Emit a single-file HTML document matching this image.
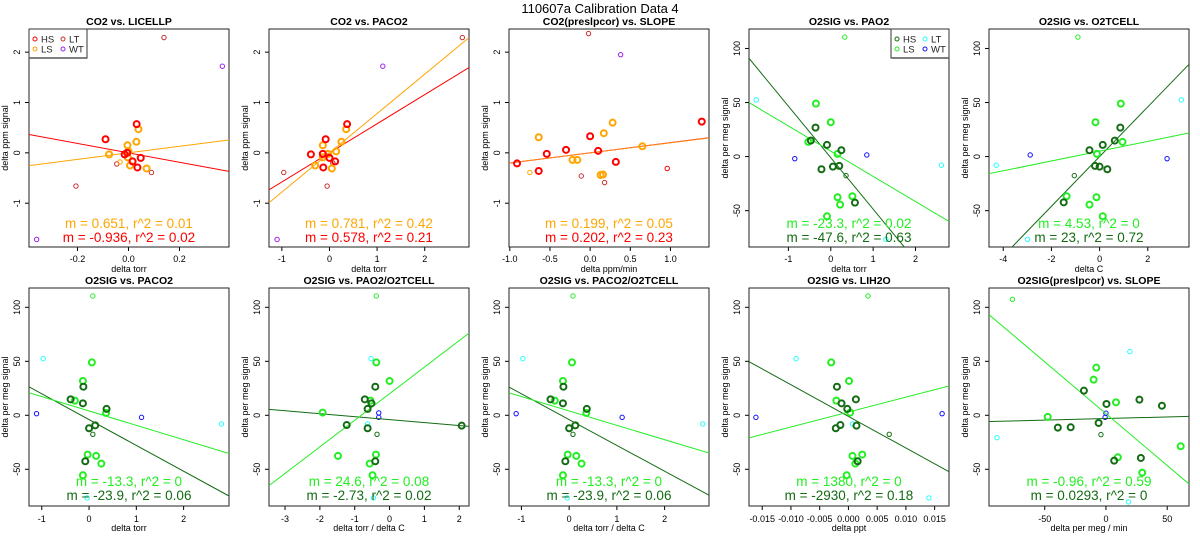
<!DOCTYPE html>
<html><head><meta charset="utf-8">
<style>
html,body{margin:0;padding:0;background:#fff;}
svg{display:block;font-family:"Liberation Sans",sans-serif;}
</style></head>
<body>
<svg id="chart" width="1200" height="550" viewBox="0 0 1200 550" xmlns="http://www.w3.org/2000/svg">
<text x="600" y="13" text-anchor="middle" font-size="13">110607a   Calibration Data 4</text>
</svg>
<script>
// ===== DATA =====
// CO2 vs LICELLP
const p1HS=[[0.032,0.57],[-0.09,0.27],[-0.005,0.0],[-0.015,-0.03],[0.016,-0.17],[0.048,-0.1],[0.035,-0.29]];
const p1LS=[[0.039,0.47],[0.031,0.22],[-0.004,0.15],[-0.076,-0.03],[-0.003,-0.09],[0.006,-0.25],[0.071,-0.31],[0,0.03]];
const p1LT=[[0.139,2.29],[-0.206,-0.66],[0.09,-0.39],[-0.046,-0.22]];
const p1WT=[[0.368,1.72],[-0.36,-1.72]];
const p1HSt=[];
const p1LSt=[[-0.033,-0.18]];
// CO2 vs PACO2
const p2HS=[[0.37,0.57],[-0.08,0.27],[-0.39,-0.03],[-0.14,-0.02],[-0.13,-0.29],[0.0,-0.1],[0.12,-0.17]];
const p2LS=[[0.35,0.47],[0.25,0.22],[-0.14,0.15],[-0.14,-0.09],[-0.3,-0.25],[0.05,-0.31],[-0.03,-0.02],[0.14,0.03]];
const p2LT=[[2.79,2.29],[-0.96,-0.39],[-0.05,-0.66],[0.07,-0.2]];
const p2WT=[[1.12,1.72],[-1.1,-1.72]];
const p2HSt=[];
const p2LSt=[];
// CO2(preslpcor) vs SLOPE
const p3HS=[[-0.91,-0.21],[-0.64,-0.36],[-0.54,-0.02],[-0.30,0.06],[0.0,0.33],[0.10,0.04],[0.32,-0.18],[1.39,0.62]];
const p3LS=[[-0.64,0.31],[-0.22,-0.14],[-0.16,-0.14],[0.17,0.39],[0.28,0.60],[0.13,-0.44],[0.16,-0.43],[0.65,0.13]];
const p3LT=[[-0.02,2.37],[-0.11,-0.46],[0.18,-0.59]];
const p3WT=[[0.38,1.95]];
const p3HSt=[[0.96,-0.31]];
const p3LSt=[[-0.75,-0.39]];
// O2SIG vs PAO2
const p4HS=[[-0.36,26.8],[-0.47,14.8],[-0.09,10.8],[0.25,5.9],[-0.22,-11.7],[0.05,-9.3],[0.20,-8.6],[0.57,-42.6]];
const p4LS=[[-0.35,49],[0,31.8],[-0.53,13.6],[0.16,2.5],[0.16,-37.6],[0.51,-36.7],[0.22,-44.4],[-0.09,-55.2]];
const p4LT=[[-1.76,52.5],[2.61,-8],[1.3,-76.5]];
const p4WT=[[-0.85,-1.9],[0.85,1.5]];
const p4HSt=[[0.36,-17.6]];
const p4LSt=[[0.33,110.5]];
// O2SIG vs O2TCELL
const p5HS=[[0.86,26.8],[0.63,14.8],[0.13,10.8],[-0.42,5.9],[-0.19,-8.6],[0,-9.3],[0.32,-11.7],[-1.49,-42.3]];
const p5LS=[[0.88,49],[-0.17,31.8],[0.95,13.6],[-0.11,2.5],[-0.13,-37.6],[-1.37,-36.7],[-0.42,-44.4],[0.13,-55.2]];
const p5LT=[[3.39,52.5],[-4.29,-8],[-2.99,-76.5]];
const p5WT=[[-2.88,1.5],[2.8,-1.9]];
const p5HSt=[[-1.05,-17.6]];
const p5LSt=[[-0.9,110.5]];
// O2SIG vs PACO2 (and PACO2/O2TCELL)
const p6HS=[[-0.12,26.5],[-0.39,14.8],[-0.13,11.1],[0.37,5.9],[0,-12],[0.13,-9.3],[-0.08,-42.6]];
const p6LS=[[0.06,49],[-0.13,31.8],[-0.30,13.6],[0.36,2.2],[-0.03,-36.4],[0.15,-37.6],[0.26,-44.7],[-0.13,-55.5]];
const p6LT=[[-0.97,52.5],[2.8,-8],[-0.04,-76.5]];
const p6WT=[[-1.11,1.5],[1.11,-1.9]];
const p6HSt=[[0.08,-17.6]];
const p6LSt=[[0.08,110.5]];
// O2SIG vs PAO2/O2TCELL
const p7HS=[[-0.41,26.5],[-0.71,14.8],[-0.52,11.1],[-0.63,5.9],[-0.63,-12],[-1.23,-9],[-0.41,-42.6],[2.07,-9.6]];
const p7LS=[[-0.38,49],[0,31.8],[-0.55,13.6],[-1.92,2.5],[-0.39,-36.4],[-1.48,-37.6],[-0.57,-44.7],[-0.49,-55.5]];
const p7LT=[[-0.53,52.5],[-0.63,-8],[-0.46,-76.5]];
const p7WT=[[-0.31,2.2],[-0.31,-1.9]];
const p7HSt=[[-0.36,-17.6]];
const p7LSt=[[-0.38,110.5]];
// O2SIG vs LIH2O
const p9HS=[[-0.0020,26.5],[0.0013,14.8],[-0.0012,11.1],[-0.0002,5.9],[-0.0022,-12],[-0.0014,-9],[0.0014,-9.6],[0.0016,-42.6]];
const p9LS=[[-0.003,49],[0.0001,31.8],[-0.0021,13.6],[0.0003,2.5],[0.0007,-37.6],[0.0024,-36.4],[0.0012,-44.7],[-0.0003,-55.5]];
const p9LT=[[-0.0091,52.5],[0.0007,-8],[0.014,-76.5]];
const p9WT=[[-0.0161,-1.9],[0.0163,1.5]];
const p9HSt=[[0.0071,-17.6]];
const p9LSt=[[0.0034,110.5]];
// O2SIG(preslpcor) vs SLOPE
const p10HS=[[-18,22.8],[0.4,10.5],[27.3,14.5],[45.7,8.9],[-39.3,-11.4],[-28.8,-11.1],[-6,-7.1],[28.5,-39.5],[6.7,-42]];
const p10LS=[[-7.9,44.1],[-10.1,33],[8.2,12],[-47.6,-1.5],[9.7,-38.9],[61,-28.7],[29.6,-53.1]];
const p10LT=[[19.5,59],[-89,-20.7],[18.4,-80.2]];
const p10WT=[[0,1.9],[-0.7,-1.9]];
const p10HSt=[[-4.1,-17.9]];
const p10LSt=[[-76.4,107.4]];
// fit lines: [slope, intercept]
const fitLS=[[0.651,0],[0.781,0],[0.199,0],[-23.3,5],[4.53,5],[-13.3,4],[24.6,20],[-13.3,4],[1380,3],[-0.96,1.5]];
const fitHS=[[-0.936,0],[0.578,0],[0.202,0],[-47.6,-1],[23,0],[-23.9,-4],[-2.73,-4],[-23.9,-4],[-2930,-1],[0.0293,-3]];
const labelLS=["m = 0.651, r^2 = 0.01","m = 0.781, r^2 = 0.42","m = 0.199, r^2 = 0.05","m = -23.3, r^2 = 0.02","m = 4.53, r^2 = 0","m = -13.3, r^2 = 0","m = 24.6, r^2 = 0.08","m = -13.3, r^2 = 0","m = 1380, r^2 = 0","m = -0.96, r^2 = 0.59"];
const labelHS=["m = -0.936, r^2 = 0.02","m = 0.578, r^2 = 0.21","m = 0.202, r^2 = 0.23","m = -47.6, r^2 = 0.63","m = 23, r^2 = 0.72","m = -23.9, r^2 = 0.06","m = -2.73, r^2 = 0.02","m = -23.9, r^2 = 0.06","m = -2930, r^2 = 0.18","m = 0.0293, r^2 = 0"];
const titles=["CO2 vs. LICELLP","CO2 vs. PACO2","CO2(preslpcor) vs. SLOPE","O2SIG vs. PAO2","O2SIG vs. O2TCELL","O2SIG vs. PACO2","O2SIG vs. PAO2/O2TCELL","O2SIG vs. PACO2/O2TCELL","O2SIG vs. LIH2O","O2SIG(preslpcor) vs. SLOPE"];
const xLabels=["delta torr","delta torr","delta ppm/min","delta torr","delta C","delta torr","delta torr / delta C","delta torr / delta C","delta ppt","delta per meg / min"];
const xTicks=[[-0.2,0,0.2],[-1,0,1,2],[-1,-0.5,0,0.5,1],[-1,0,1,2],[-4,-2,0,2],[-1,0,1,2],[-3,-2,-1,0,1,2],[-1,0,1,2],[-0.015,-0.01,-0.005,0,0.005,0.01,0.015],[-50,0,50]];
const xTickLabels=[["-0.2","0.0","0.2"],["-1","0","1","2"],["-1.0","-0.5","0.0","0.5","1.0"],["-1","0","1","2"],["-4","-2","0","2"],["-1","0","1","2"],["-3","-2","-1","0","1","2"],["-1","0","1","2"],["-0.015","-0.010","-0.005","0.000","0.005","0.010","0.015"],["-50","0","50"]];
const yTicksCO2=[-1,0,1,2];
const yTicksO2=[-50,0,50,100];
const xRanges=[[-0.39,0.394],[-1.27,2.93],[-1.01,1.48],[-1.93,2.79],[-4.59,3.71],[-1.27,2.96],[-3.46,2.28],[-1.26,2.93],[-0.0173,0.0175],[-95.5,67.8]];

// ===== LAYOUT =====
const svg=document.getElementById('chart');
const NS='http://www.w3.org/2000/svg';
const CO2C={HS:'#ff0000',LS:'#ffa500',LT:'#c83232',WT:'#a020f0'};
const O2C={HS:'#136b13',LS:'#22ee22',LT:'#22ffff',WT:'#1010ff'};
const series=[[p1HS,p1LS,p1LT,p1WT,p1HSt,p1LSt],[p2HS,p2LS,p2LT,p2WT,p2HSt,p2LSt],[p3HS,p3LS,p3LT,p3WT,p3HSt,p3LSt],[p4HS,p4LS,p4LT,p4WT,p4HSt,p4LSt],[p5HS,p5LS,p5LT,p5WT,p5HSt,p5LSt],[p6HS,p6LS,p6LT,p6WT,p6HSt,p6LSt],[p7HS,p7LS,p7LT,p7WT,p7HSt,p7LSt],[p6HS,p6LS,p6LT,p6WT,p6HSt,p6LSt],[p9HS,p9LS,p9LT,p9WT,p9HSt,p9LSt],[p10HS,p10LS,p10LT,p10WT,p10HSt,p10LSt]];
function mk(tag,attrs,parent){const e=document.createElementNS(NS,tag);for(const k in attrs)e.setAttribute(k,attrs[k]);(parent||svg).appendChild(e);return e;}

for(let i=0;i<10;i++){
  const row=i<5?0:1, col=i%5;
  const x0=29+240*col, w=200;
  const y0=row?288:29, h=218;
  const co2=i<3;
  const ylim=co2?[-1.87,2.46]:(row?[-84,117.9]:[-83.6,118]);
  const xlim=xRanges[i];
  const X=v=>x0+(v-xlim[0])/(xlim[1]-xlim[0])*w;
  const Y=v=>y0+h-(v-ylim[0])/(ylim[1]-ylim[0])*h;
  const g=mk('g',{});
  
  
  const cp=mk('clipPath',{id:'cp'+i},g);
  mk('rect',{x:x0,y:y0,width:w,height:h},cp);
  const t=mk('text',{x:x0+w/2,y:y0-4,'text-anchor':'middle','font-size':'10.5','font-weight':'bold'},g);
  t.textContent=titles[i];
  
  
  const tyTick=row?522:262, tyLab=row?531:272;
  xTicks[i].forEach((v,k)=>{
    mk('line',{x1:X(v),x2:X(v),y1:y0+h,y2:y0+h+4,stroke:'#000','stroke-width':1},g);
    const tl=mk('text',{x:X(v),y:tyTick,'text-anchor':'middle','font-size':'9'},g);
    tl.textContent=xTickLabels[i][k];
    
    
  });
  mk('line',{x1:X(xTicks[i][0]),x2:X(xTicks[i][xTicks[i].length-1]),y1:y0+h,y2:y0+h,stroke:'#000'},g);
  const xl=mk('text',{x:x0+w/2,y:tyLab,'text-anchor':'middle','font-size':'9'},g);
  xl.textContent=xLabels[i];
  
  
  const yt=co2?yTicksCO2:yTicksO2;
  yt.forEach(v=>{
    mk('line',{x1:x0-4,x2:x0,y1:Y(v),y2:Y(v),stroke:'#000'},g);
    const tl=mk('text',{x:x0-9,y:Y(v),'text-anchor':'middle','font-size':'9',transform:`rotate(-90 ${x0-9} ${Y(v)})`},g);
    tl.textContent=String(v);
    
    
  });
  mk('line',{x1:x0,x2:x0,y1:Y(yt[0]),y2:Y(yt[yt.length-1]),stroke:'#000'},g);
  const yl=mk('text',{x:x0-21,y:y0+h/2,'text-anchor':'middle','font-size':'9',transform:`rotate(-90 ${x0-21} ${y0+h/2})`},g);
  yl.textContent=co2?'delta ppm signal':'delta per meg signal';
  
  
  mk('rect',{x:x0,y:y0,width:w,height:h,fill:'none',stroke:'#222','stroke-width':1},g);
  const C=co2?CO2C:O2C;
  const cl=mk('g',{'clip-path':`url(#cp${i})`},g);
  const [hs,ls,lt,wt,hst,lst]=series[i];
  const drawPts=(arr,col,thick,nm)=>arr.forEach(p=>{
    const c=mk('circle',{cx:X(p[0]),cy:Y(p[1]),r:thick?3:2.2,fill:'none',stroke:col,'stroke-width':thick?2:1},cl);
    
    
  });
  drawPts(lt,C.LT,false,'point-lt');
  drawPts(wt,C.WT,false,'point-wt');
  drawPts(hst,C.HS,false,'point-hs-thin');
  drawPts(lst,C.LS,false,'point-ls-thin');
  const drawLine=(f,col,nm)=>{
    const l=mk('line',{x1:X(xlim[0]),y1:Y(f[0]*xlim[0]+f[1]),x2:X(xlim[1]),y2:Y(f[0]*xlim[1]+f[1]),stroke:col,'stroke-width':1},cl);
    
    
  };
  drawLine(fitHS[i],C.HS,'fit-line-hs');
  drawLine(fitLS[i],i==2?'#ff8c1a':C.LS,'fit-line-ls');
  drawPts(ls,C.LS,true,'point-ls');
  drawPts(hs,C.HS,true,'point-hs');
  const ty1=row?486:228, ty2=row?500:242;
  const a1=mk('text',{x:x0+w/2,y:ty1,'text-anchor':'middle','font-size':'13.5',fill:C.LS},g);
  a1.textContent=labelLS[i];
  
  
  const a2=mk('text',{x:x0+w/2,y:ty2,'text-anchor':'middle','font-size':'13.5',fill:C.HS},g);
  a2.textContent=labelHS[i];
  
  
  if(i==0||i==3){
    const lx=i==0?x0:x0+w-58, ly=y0;
    const lg=mk('g',{},g);
    
    
    mk('rect',{x:lx,y:ly,width:58,height:29,fill:'#fff',stroke:'#333','stroke-width':1},lg);
    mk('line',{x1:lx+1,y1:ly+29,x2:lx+58,y2:ly+29,stroke:'#555','stroke-width':1.5},lg);
    const ents=[['HS',C.HS,6,10],['LS',C.LS,6,20],['LT',C.LT,34,10],['WT',C.WT,34,20]];
    ents.forEach(e=>{
      const en=mk('g',{},lg);
      
      
      mk('circle',{cx:lx+e[2],cy:ly+e[3],r:2,fill:'none',stroke:e[1],'stroke-width':1},en);
      const tx=mk('text',{x:lx+e[2]+6,y:ly+e[3]+3.5,'font-size':'9.5',fill:'#222'},en);
      tx.textContent=e[0];
    });
  }
}
</script>
</body></html>
